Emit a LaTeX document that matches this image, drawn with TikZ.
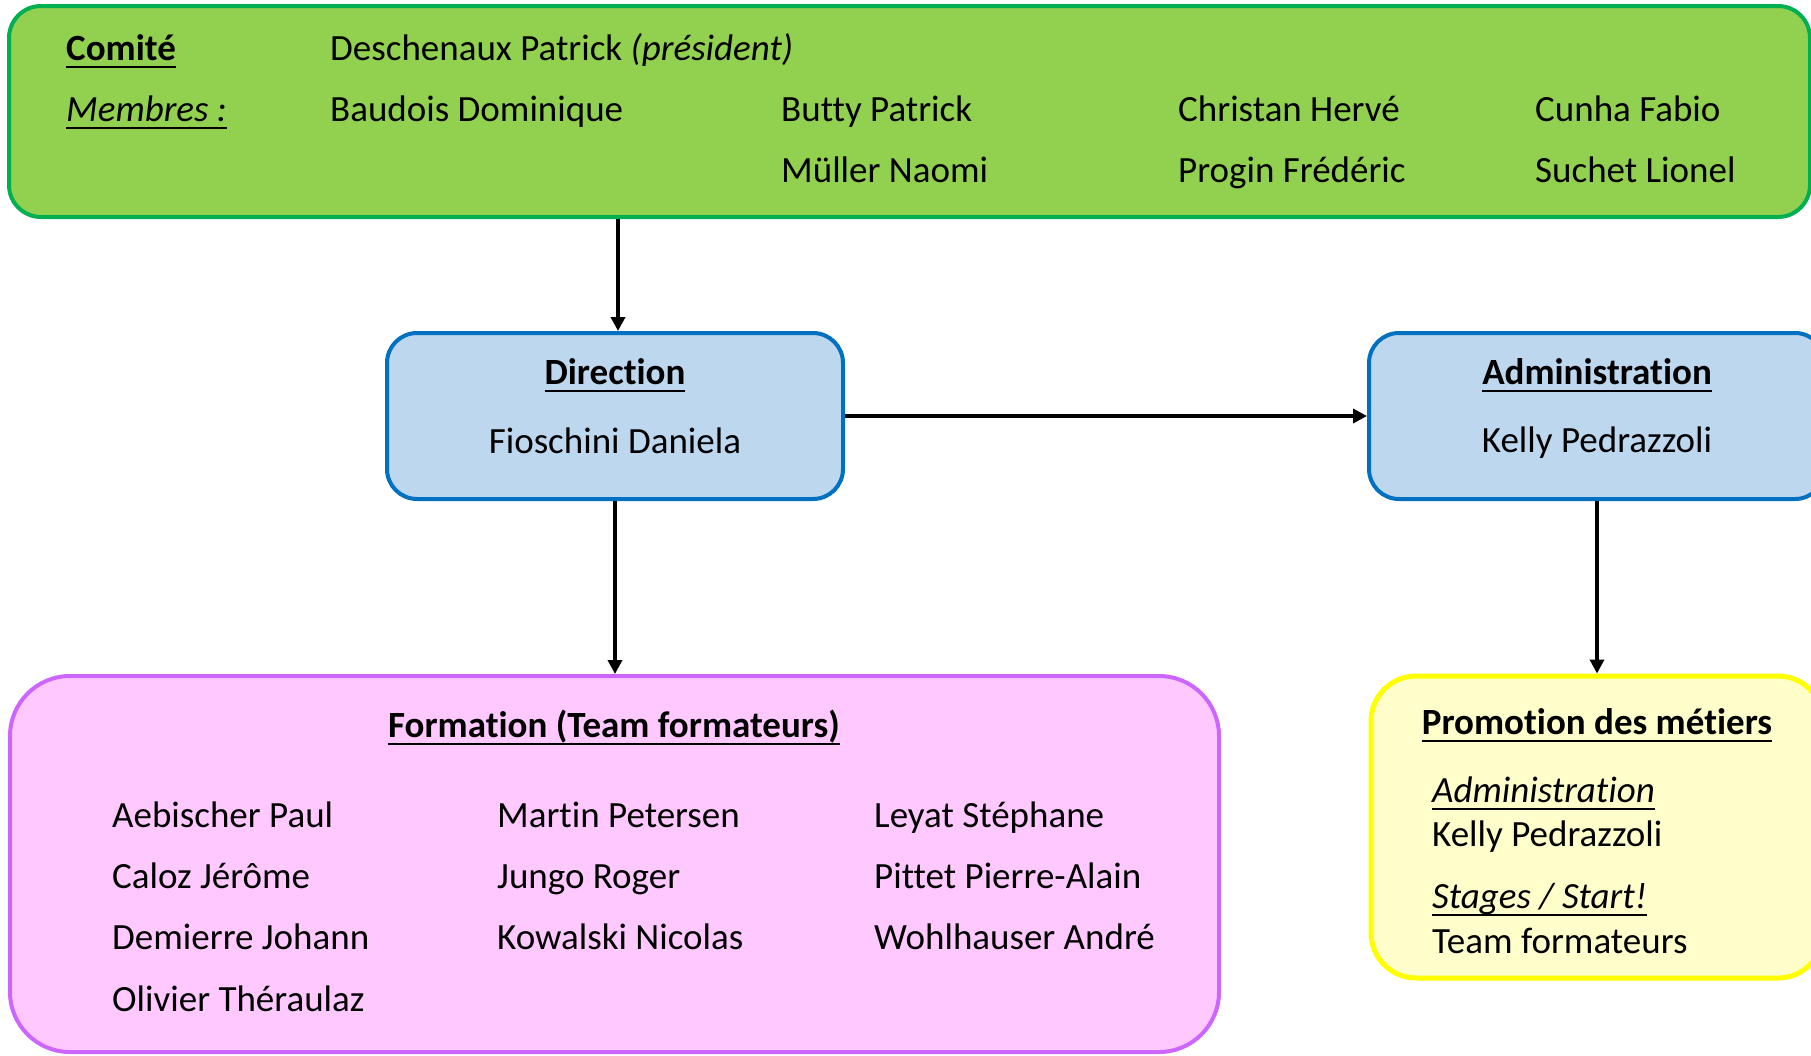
\documentclass[tikz,border=0pt]{standalone}
\usepackage{fontspec}
\setmainfont{Carlito}[Ligatures=NoCommon]
\newsavebox{\myulbox}
\newcommand{\myul}[1]{\sbox{\myulbox}{#1}\rlap{\rule[-7.5pt]{\wd\myulbox}{2pt}}\usebox{\myulbox}}
\usetikzlibrary{arrows.meta}
\definecolor{greenfill}{HTML}{92D050}
\definecolor{greenline}{HTML}{00B050}
\definecolor{bluefill}{HTML}{BDD7EE}
\definecolor{blueline}{HTML}{0070C0}
\definecolor{pinkfill}{HTML}{FFC9FF}
\definecolor{pinkline}{HTML}{CC66FF}
\definecolor{yellowfill}{HTML}{FFFFCC}
\definecolor{yellowline}{HTML}{FFFF00}
\tikzset{
  boxbase/.style={draw, line width=4pt, inner sep=0pt},
  greenbox/.style={boxbase, fill=greenfill, draw=greenline, rounded corners=32pt},
  bluebox/.style={boxbase, fill=bluefill, draw=blueline, rounded corners=30pt},
  pinkbox/.style={boxbase, fill=pinkfill, draw=pinkline, rounded corners=60pt},
  yellowbox/.style={boxbase, fill=yellowfill, draw=yellowline, rounded corners=45pt, line width=5pt},
  txt/.style={inner sep=0pt, anchor=base west, font=\fontsize{37}{44}\selectfont},
  ctxt/.style={inner sep=0pt, anchor=base, font=\fontsize{37}{44}\selectfont},
  arr/.style={line width=3.5pt, -{Triangle[length=14pt,width=14pt]}},
}
\begin{document}
\begin{tikzpicture}[x=1pt,y=-1pt]
\useasboundingbox (0,0) rectangle (1811,1055);
\clip (0,0) rectangle (1811,1055);
% boxes
\node[greenbox, minimum width=1801pt, minimum height=211pt] (green) at (909.5,111.5) {};
\node[bluebox, minimum width=456pt, minimum height=166pt] (dir) at (615,416) {};
\node[bluebox, minimum width=456pt, minimum height=166pt] (admin) at (1597,416) {};
\node[pinkbox, minimum width=1209pt, minimum height=376pt] (form) at (614.5,864) {};
\node[yellowbox, minimum width=452pt, minimum height=302pt] (promo) at (1597,827) {};
% green texts
\node[txt] (tcomite) at (66,60) {\myul{\textbf{Comité}}};
\node[txt] (tpres) at (330,60) {Deschenaux Patrick \textit{(président)}};
\node[txt] (tmembres) at (66,121) {\myul{\textit{Membres :}}};
\node[txt] (m1) at (330,121) {Baudois Dominique};
\node[txt] (m2) at (781,121) {Butty Patrick};
\node[txt] (m3) at (1178,121) {Christan Hervé};
\node[txt] (m4) at (1535,121) {Cunha Fabio};
\node[txt] (m5) at (781,182) {Müller Naomi};
\node[txt] (m6) at (1178,182) {Progin Frédéric};
\node[txt] (m7) at (1535,182) {Suchet Lionel};
% direction
\node[ctxt] (tdir) at (615,384) {\myul{\textbf{Direction}}};
\node[ctxt] (tdirn) at (615,453) {Fioschini Daniela};
% administration
\node[ctxt] (tadm) at (1597,384) {\myul{\textbf{Administration}}};
\node[ctxt] (tadmn) at (1597,452) {Kelly Pedrazzoli};
% formation
\node[ctxt] (tform) at (614,737) {\myul{\textbf{Formation (Team formateurs)}}};
\node[txt] (f1) at (112,827) {Aebischer Paul};
\node[txt] (f2) at (112,888) {Caloz Jérôme};
\node[txt] (f3) at (112,949) {Demierre Johann};
\node[txt] (f4) at (112,1011) {Olivier Théraulaz};
\node[txt] (f5) at (497,827) {Martin Petersen};
\node[txt] (f6) at (497,888) {Jungo Roger};
\node[txt] (f7) at (497,949) {Kowalski Nicolas};
\node[txt] (f8) at (874,827) {Leyat Stéphane};
\node[txt] (f9) at (874,888) {Pittet Pierre-Alain};
\node[txt] (f10) at (874,949) {Wohlhauser André};
% promotion
\node[ctxt] (tpromo) at (1597,734) {\myul{\textbf{Promotion des métiers}}};
\node[txt] (p1) at (1432,802) {\myul{\textit{Administration}}};
\node[txt] (p2) at (1432,846) {Kelly Pedrazzoli};
\node[txt] (p3) at (1432,908) {\myul{\textit{Stages / Start!}}};
\node[txt] (p4) at (1432,953) {Team formateurs};
% connectors
\coordinate (dtop) at ([xshift=3pt]dir.north);
\draw[arr] (dtop |- green.south) -- (dtop);
\draw[arr] (dir.east) -- (dir.east -| admin.west);
\draw[arr] (admin.south) -- (promo.north);
\draw[arr] (dir.south) -- (dir.south |- form.north);
\end{tikzpicture}
\end{document}
